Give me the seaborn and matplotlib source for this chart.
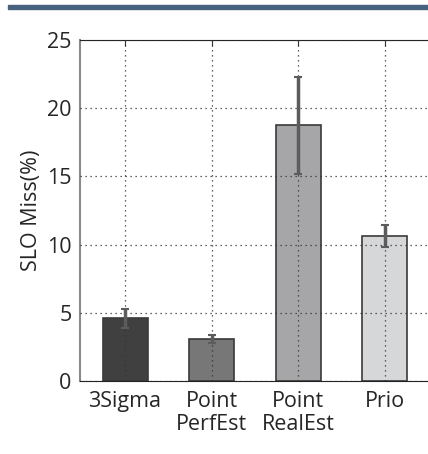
import matplotlib
matplotlib.use('Agg')
import matplotlib.pyplot as plt
import seaborn as sns
import pandas as pd
from matplotlib.patches import Rectangle

labels = ['3Sigma', 'Point\nPerfEst', 'Point\nRealEst', 'Prio']
slo_miss = [4.6, 3.1, 18.8, 10.6]
err_low = [3.9, 2.8, 15.2, 9.8]
err_high = [5.3, 3.4, 22.3, 11.4]
bar_colors = ['#404040', '#777777', '#a6a6a8', '#d6d7d9']

sns.set_style('white')
plt.rcParams['font.family'] = ['Open Sans', 'DejaVu Sans']

df = pd.DataFrame({'method': labels, 'miss': slo_miss})

fig = plt.figure(figsize=(4.28, 4.54), dpi=100)
ax = fig.add_axes([0.187, 0.161, 0.813, 0.751])

sns.barplot(data=df, x='method', y='miss', hue='method', palette=bar_colors,
            width=0.52, edgecolor='#3a3a3a', linewidth=1.2, legend=False, ax=ax)

# asymmetric error bars
yerr = [[v - lo for v, lo in zip(slo_miss, err_low)],
        [hi - v for v, hi in zip(slo_miss, err_high)]]
ax.errorbar(range(len(labels)), slo_miss, yerr=yerr, fmt='none',
            ecolor='#5c5c5c', elinewidth=2.5, capsize=3, capthick=1.5, zorder=5)

ax.set_xlim(-0.52, 3.5)
ax.set_ylim(0, 25)
ax.set_yticks([0, 5, 10, 15, 20, 25])
ax.set_xlabel('')
ax.set_ylabel('SLO Miss(%)', fontsize=15.5, labelpad=4)
ax.tick_params(axis='both', labelsize=15.5, direction='in', length=4, color='#333333')
ax.tick_params(axis='y', length=0, pad=6)
ax.tick_params(axis='x', top=True, pad=7)
for t in ax.get_xticklabels():
    t.set_linespacing(1.15)

ax.set_axisbelow(False)
ax.grid(True, linestyle=(0, (1, 3)), color='#333333', linewidth=0.9)

ax.spines['left'].set_color('#8a8a8a')
ax.spines['left'].set_linewidth(1.5)
ax.spines['bottom'].set_color('#222222')
ax.spines['top'].set_color('#222222')
ax.spines['right'].set_visible(False)

# header strip at the top
fig.patches.append(Rectangle((8 / 428, 1 - 9 / 454), 420 / 428, 4 / 454,
                             transform=fig.transFigure, color='#46627f', zorder=10))

fig.savefig('out.png', dpi=100)
